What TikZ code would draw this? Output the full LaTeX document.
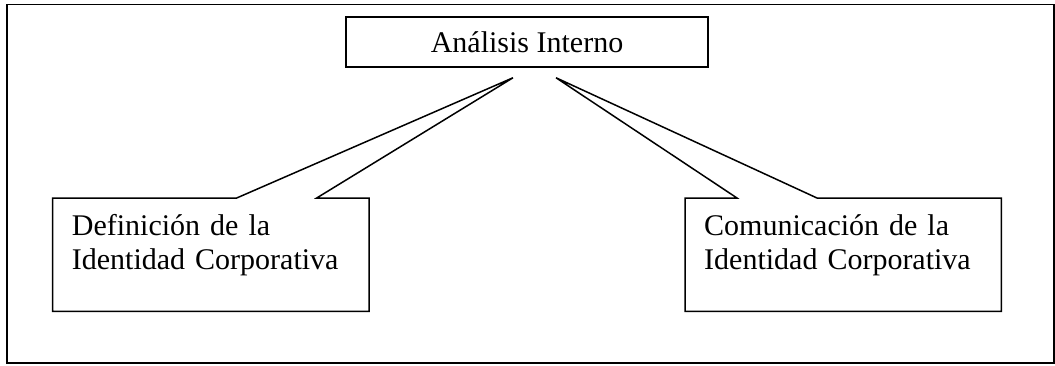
\documentclass[tikz,border=0pt]{standalone}
\usepackage{fontspec}
\setmainfont{Liberation Serif}
\usetikzlibrary{positioning}
\tikzset{
    letra/.style={font=\fontsize{30pt}{34pt}\selectfont},
    caja/.style={letra, draw, line width=1.5pt, minimum width=362pt, minimum height=50pt, inner sep=0pt},
    globo/.style={letra, anchor=north west, align=left, text width=278pt, inner xsep=19pt, inner ysep=16.5pt, text height=20.5pt, text depth=59.5pt},
    borde/.style={line width=1.5pt, line join=miter}
}

\begin{document}
\begin{tikzpicture}[x=1pt,y=-1pt]
    \useasboundingbox (0,0) rectangle (1055,365);
    \draw[line width=1.8pt] (7,4.5) rectangle (1054,363);
    \node[caja] (analisis) at (527,42) {Análisis Interno};
    \coordinate (puntaA) at ([xshift=-14pt,yshift=-10pt]analisis.south);
    \coordinate (puntaB) at ([xshift=29pt,yshift=-10pt]analisis.south);
    \node[globo] (definicion) at (52.7,198) {Definición de la\\Identidad Corporativa};
    \node[globo] (comunicacion) at (685,198) {Comunicación de la\\Identidad Corporativa};
    \draw[borde] (definicion.north west) -- ([xshift=184pt]definicion.north west) -- (puntaA)
        -- ([xshift=264pt]definicion.north west) -- (definicion.north east)
        -- (definicion.south east) -- (definicion.south west) -- cycle;
    \draw[borde] (comunicacion.north west) -- ([xshift=52pt]comunicacion.north west) -- (puntaB)
        -- ([xshift=132pt]comunicacion.north west) -- (comunicacion.north east)
        -- (comunicacion.south east) -- (comunicacion.south west) -- cycle;
\end{tikzpicture}
\end{document}
